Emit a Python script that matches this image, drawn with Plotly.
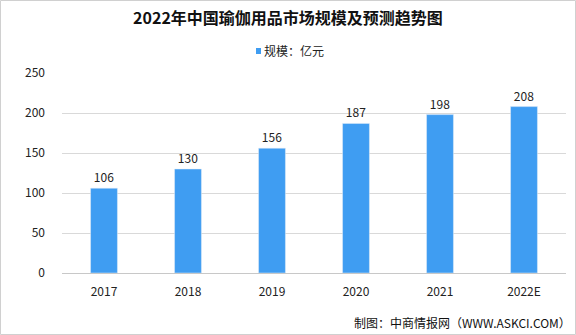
import plotly.graph_objects as go

years = ["2017", "2018", "2019", "2020", "2021", "2022E"]
values = [106, 130, 156, 187, 198, 208]
series_name = "规模：亿元"
title = "2022年中国瑜伽用品市场规模及预测趋势图"
source = "制图：中商情报网（WWW.ASKCI.COM）"

font_family = "Noto Sans CJK SC, Noto Sans, sans-serif"
bar_color = "#3F9DF2"

# plot area in pixels: x 62..566, y 73..273
L, R, T, B = 62, 10, 73, 62
PW, PH = 576 - L - R, 335 - T - B

def px(x):
    return (x - L) / PW

def py(y):
    return (335 - B - y) / PH

fig = go.Figure()
fig.add_trace(go.Bar(
    x=years, y=values, name=series_name,
    marker=dict(color=bar_color),
    width=0.32,
    text=[str(v) for v in values], textposition="outside",
    textfont=dict(size=12, color="#222222", family=font_family),
    cliponaxis=False,
    showlegend=False,
))

fig.update_layout(
    width=576, height=335,
    margin=dict(l=L, r=R, t=T, b=B),
    paper_bgcolor="white", plot_bgcolor="white",
    font=dict(family=font_family, size=12, color="#222222"),
    title=dict(text="<b>" + title + "</b>", x=0.5, xanchor="center",
               y=1 - 18 / 335, yanchor="middle",
               font=dict(size=16, color="#111111", family=font_family)),
    xaxis=dict(showline=True, linecolor="#C8C8C8", linewidth=1, ticks="",
               tickfont=dict(size=12), ticklabelstandoff=8),
    yaxis=dict(range=[0, 250], dtick=50, showgrid=True, gridcolor="#D9D9D9",
               zeroline=False, showline=False, tickfont=dict(size=12),
               ticklabelstandoff=16),
    annotations=[
        dict(text=source, xref="paper", yref="paper", x=px(573), y=py(322),
             xanchor="right", yanchor="middle", showarrow=False,
             font=dict(size=12, color="#111111")),
        dict(text=series_name, xref="paper", yref="paper", x=px(262), y=py(51),
             xanchor="left", yanchor="middle", showarrow=False,
             font=dict(size=12, color="#222222")),
    ],
    shapes=[
        dict(type="rect", xref="paper", yref="paper", x0=px(256), x1=px(261),
             y0=py(54), y1=py(48), fillcolor=bar_color, line=dict(width=0)),
        dict(type="rect", xref="paper", yref="paper", x0=px(0.5), x1=px(575.5),
             y0=py(334.5), y1=py(0.5), line=dict(color="#D0D0D0", width=1)),
    ],
)

fig.write_html("out.html")
